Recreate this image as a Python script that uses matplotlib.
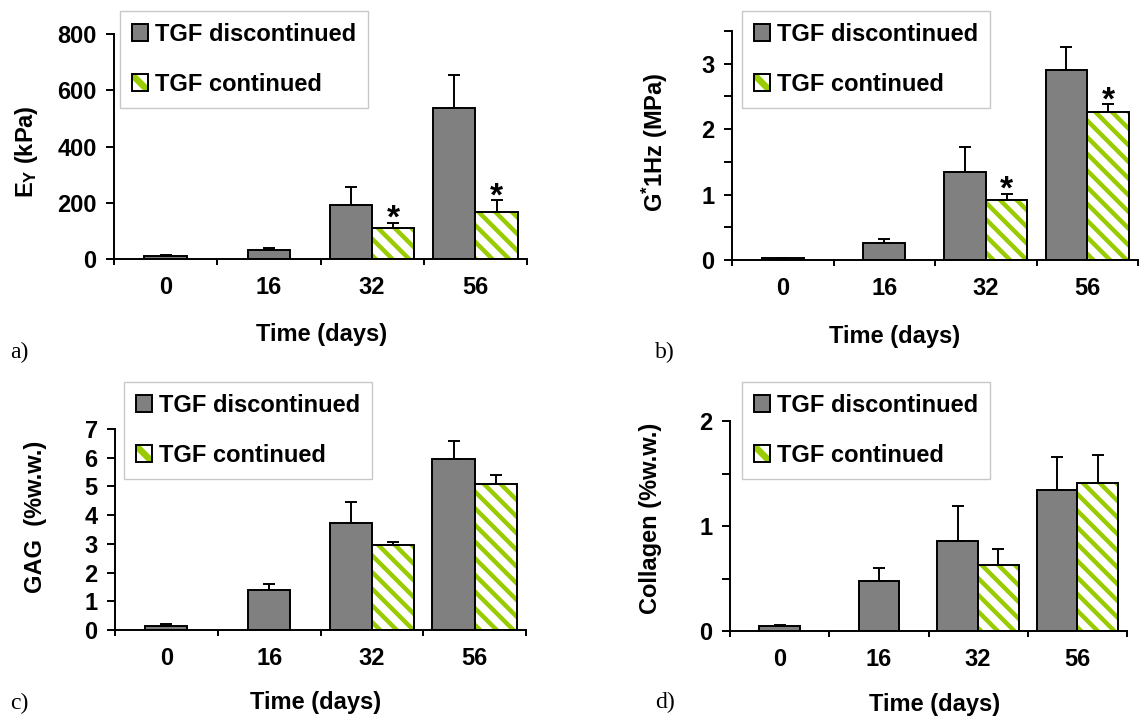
import numpy as np
import matplotlib
matplotlib.use("Agg")
from matplotlib import pyplot as plt
from matplotlib.patches import Patch, Rectangle, Polygon

# data (nan = no TGF continued group)
days = ["0", "16", "32", "56"]

ey_disc = [11, 33, 193, 536]
ey_disc_err = [4, 5, 63, 120]
ey_cont = [np.nan, np.nan, 110, 167]
ey_cont_err = [np.nan, np.nan, 19, 42]

g_disc = [0.03, 0.255, 1.35, 2.91]
g_disc_err = [0.005, 0.06, 0.37, 0.35]
g_cont = [np.nan, np.nan, 0.91, 2.26]
g_cont_err = [np.nan, np.nan, 0.10, 0.12]

gag_disc = [0.15, 1.41, 3.74, 5.94]
gag_disc_err = [0.05, 0.18, 0.71, 0.65]
gag_cont = [np.nan, np.nan, 2.97, 5.10]
gag_cont_err = [np.nan, np.nan, 0.10, 0.30]

col_disc = [0.044, 0.476, 0.857, 1.346]
col_disc_err = [0.01, 0.124, 0.333, 0.308]
col_cont = [np.nan, np.nan, 0.632, 1.406]
col_cont_err = [np.nan, np.nan, 0.148, 0.27]

plt.rcParams["font.family"] = ["Liberation Sans", "DejaVu Sans"]
plt.rcParams["font.weight"] = "bold"
plt.rcParams["font.size"] = 17
plt.rcParams["mathtext.fontset"] = "custom"
plt.rcParams["mathtext.rm"] = "Liberation Sans:bold"
plt.rcParams["mathtext.it"] = "Liberation Sans:bold"
plt.rcParams["mathtext.bf"] = "Liberation Sans:bold"
plt.rcParams["hatch.linewidth"] = 3.2

W, H = 1139, 722
DARK = "#808080"
GREEN = "#99cc00"
HATCH = "\\\\"
bw = 0.41

fig = plt.figure(figsize=(W / 100, H / 100), dpi=100)


def px(x, y):
    return x / W, 1 - y / H


# legend key: white square with one green diagonal stripe
class StripeHandler:
    def legend_artist(self, legend, orig_handle, fontsize, handlebox):
        x0, y0 = handlebox.xdescent, handlebox.ydescent
        w, h = handlebox.width, handlebox.height
        tr = handlebox.get_transform()
        t = 0.28
        back = Rectangle((x0, y0), w, h, facecolor="white", edgecolor="none", transform=tr)
        stripe = Polygon([(x0, y0 + h), (x0 + t * w, y0 + h), (x0 + w, y0 + t * h),
                          (x0 + w, y0), (x0 + w - t * w, y0), (x0, y0 + h - t * h)],
                         closed=True, facecolor=GREEN, edgecolor="none", transform=tr)
        border = Rectangle((x0, y0), w, h, facecolor="none", edgecolor="black",
                           linewidth=1.4, transform=tr)
        for a in (back, stripe, border):
            handlebox.add_artist(a)
        return border


def make_panel(rect, disc, disc_err, cont, cont_err, ymax, major, minor, stars,
               ylabel, ylab_xy, xlab_xy, tag, tag_xy, leg_xy):
    l, r, t, b = rect
    ax = fig.add_axes([l / W, 1 - b / H, (r - l) / W, (b - t) / H])
    pos = np.arange(len(days))
    disc = np.array(disc, float)
    cont = np.array(cont, float)
    has_cont = ~np.isnan(cont)
    dx = np.where(has_cont, pos - bw / 2, pos)

    ax.bar(dx, disc, width=bw, color=DARK, edgecolor="black", linewidth=1.4, zorder=2)
    ax.errorbar(dx, disc, yerr=[np.zeros(len(disc)), disc_err], fmt="none",
                ecolor="black", elinewidth=1.4, capsize=4.5, capthick=1.4, zorder=3)

    cx = pos[has_cont] + bw / 2
    cy = cont[has_cont]
    ce = np.array(cont_err, float)[has_cont]
    ax.bar(cx, cy, width=bw, color="white", edgecolor=GREEN, linewidth=0,
           hatch=HATCH, zorder=2)
    ax.bar(cx, cy, width=bw, color="none", edgecolor="black", linewidth=1.4, zorder=2)
    ax.errorbar(cx, cy, yerr=[np.zeros(len(cy)), ce], fmt="none",
                ecolor="black", elinewidth=1.4, capsize=4.5, capthick=1.4, zorder=3)
    if stars:
        for xx, yy, ee in zip(cx, cy, ce):
            ax.annotate("*", (xx, yy + ee), xytext=(0, -3.5), textcoords="offset points",
                        ha="center", va="baseline", fontsize=24, fontweight="bold")

    ax.set_xlim(-0.5, len(days) - 0.5)
    ax.set_ylim(0, ymax)
    ax.set_xticks(np.arange(-0.5, len(days)))
    ax.set_xticklabels([])
    ax.set_xticks(pos, minor=True)
    ax.set_xticklabels(days, minor=True)
    ax.tick_params(axis="x", which="major", direction="out", length=4.5, width=1.4)
    ax.tick_params(axis="x", which="minor", length=0, pad=12.5)
    ax.set_yticks(major)
    ax.set_yticks(minor, minor=True)
    ax.tick_params(axis="y", which="both", direction="out", length=5.5, width=1.4, pad=7)
    for s in ["top", "right"]:
        ax.spines[s].set_visible(False)
    for s in ["left", "bottom"]:
        ax.spines[s].set_linewidth(1.4)

    fig.text(*px(*ylab_xy), ylabel, rotation=90, ha="center", va="center")
    fig.text(*px(*xlab_xy), "Time (days)", ha="center", va="center")
    fig.text(*px(*tag_xy), tag, ha="left", va="center", fontsize=17,
             family="Liberation Serif", fontweight="normal")

    h1 = Patch(facecolor=DARK, edgecolor="black", linewidth=1.4)
    h2 = Patch(facecolor="white", edgecolor="black")
    leg = ax.legend([h1, h2], ["TGF discontinued", "TGF continued"],
                    handler_map={h2: StripeHandler()},
                    loc="upper left", bbox_to_anchor=px(*leg_xy),
                    bbox_transform=fig.transFigure, borderaxespad=0,
                    fancybox=False, framealpha=1, edgecolor="#c8c8c8",
                    handlelength=0.7, handleheight=0.7, handletextpad=0.3,
                    labelspacing=1.15, borderpad=0.5, fontsize=17)
    leg.get_frame().set_linewidth(1.0)
    return ax


make_panel((114, 527, 34, 259), ey_disc, ey_disc_err, ey_cont, ey_cont_err,
           800, [0, 200, 400, 600, 800], [], True,
           r"$E_Y$ (kPa)", (27, 152), (322, 335), "a)", (10, 352), (120, 11))

make_panel((732, 1138, 31, 260), g_disc, g_disc_err, g_cont, g_cont_err,
           3.5, [0, 1, 2, 3], [0.5, 1.5, 2.5, 3.5], True,
           r"G$^{*}$1Hz (MPa)", (655, 142), (895, 337), "b)", (655, 352), (742, 11))

make_panel((115, 526, 429, 630), gag_disc, gag_disc_err, gag_cont, gag_cont_err,
           7, [0, 1, 2, 3, 4, 5, 6, 7], [], False,
           "GAG  (%w.w.)", (36, 517), (316, 703), "c)", (10, 703), (124, 382))

make_panel((730, 1127, 421, 631), col_disc, col_disc_err, col_cont, col_cont_err,
           2, [0, 1, 2], [0.5, 1.5], False,
           "Collagen (%w.w.)", (651, 518), (935, 705), "d)", (655, 702), (742, 382))

fig.savefig("out.png", dpi=100)
